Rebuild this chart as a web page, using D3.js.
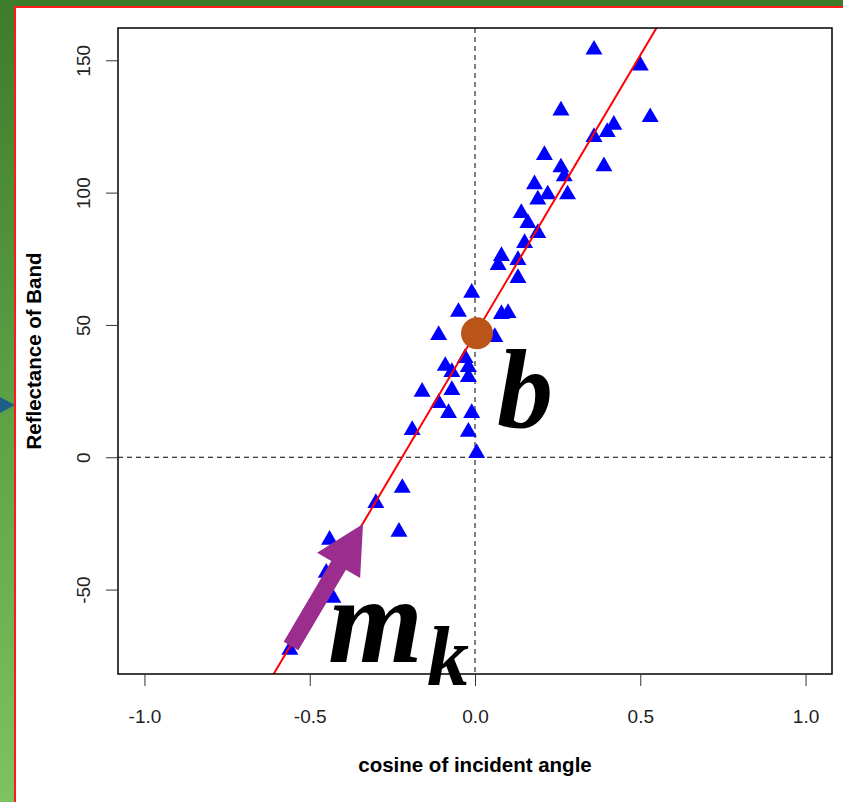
<!DOCTYPE html>
<html>
<head>
<meta charset="utf-8">
<script src="https://cdn.jsdelivr.net/npm/d3@7"></script>
<style>
  body { margin: 0; }
  svg { display: block; }
</style>
</head>
<body>
<div class="chart"></div>
<script>

// cosine of incident angle / reflectance pairs
const cosValues = [
  0.36, 0.50, 0.26, 0.53, 0.42, 0.40, 0.36, 0.21, 0.39, 0.26,
  0.27, 0.18, 0.22, 0.19, 0.28, 0.14, 0.16, 0.19, 0.15, 0.08,
  0.07, 0.13, 0.13, -0.01, -0.05, 0.08, 0.10, -0.11, 0.06, -0.03,
  -0.09, -0.07, -0.02, -0.02, -0.16, -0.07, -0.11, -0.08, -0.01, -0.02,
  -0.19, 0.005, -0.22, -0.30, -0.23, -0.44, -0.45, -0.43, -0.56
];
const reflValues = [
  154, 148, 131, 128.5, 125.6, 122.9, 121, 114.2, 109.9, 109.5,
  106.1, 103.1, 99.3, 97.4, 99.3, 92.3, 88.5, 84.7, 80.9, 76,
  72.6, 74.5, 67.7, 62.1, 54.9, 54.1, 54.5, 46.2, 45.4, 37.5,
  34.5, 32.2, 34.1, 30.3, 24.7, 25.4, 20.5, 16.7, 16.7, 9.6,
  10.3, 1.6, -11.6, -17.3, -28.2, -31.2, -43.7, -53.1, -72.8
];

const xTicks = [-1.0, -0.5, 0.0, 0.5, 1.0];
const yTicks = [-50, 0, 50, 100, 150];

// fitted line as drawn: intercept b, slope m_k
const fitIntercept = 46.5;
const fitSlope = 210.8;

const width = 843;
const height = 802;

let box = {left: 118, right: 832, top: 28, bottom: 674};

let x = d3.scaleLinear().domain([-1.08, 1.08]).range([box.left, box.right]);
let y = d3.scaleLinear().domain([-81.9, 162.2]).range([box.bottom, box.top]);

// R style labels use a plain hyphen for negatives
const hyphen = f => d => f(d).replace('\u2212', '-');

const svg = d3.select('.chart')
  .append('svg')
  .attr('width', width)
  .attr('height', height);

// slide background
let grad = svg.append('defs')
  .append('linearGradient')
  .attr('id', 'bg')
  .attr('x1', 0).attr('y1', 0).attr('x2', 0).attr('y2', 1);
grad.append('stop').attr('offset', '0%').attr('stop-color', '#3d7c2a');
grad.append('stop').attr('offset', '100%').attr('stop-color', '#7cc460');

svg.append('rect')
  .attr('width', width).attr('height', height)
  .attr('fill', 'url(#bg)');

svg.append('path')
  .attr('d', 'M0,397L15,405L0,413Z')
  .attr('fill', '#1f5e86');

svg.append('rect')
  .attr('x', 15).attr('y', 7)
  .attr('width', width).attr('height', height)
  .attr('fill', '#fff')
  .attr('stroke', '#ff1a1a')
  .attr('stroke-width', 2);

svg.append('clipPath')
  .attr('id', 'plotclip')
  .append('rect')
  .attr('x', box.left).attr('y', box.top)
  .attr('width', box.right - box.left)
  .attr('height', box.bottom - box.top);

// zero reference lines
svg.append('line')
  .attr('x1', x(0)).attr('x2', x(0))
  .attr('y1', box.top).attr('y2', box.bottom)
  .attr('stroke', '#000').attr('stroke-dasharray', '5,4');

svg.append('line')
  .attr('x1', box.left).attr('x2', box.right)
  .attr('y1', y(0)).attr('y2', y(0))
  .attr('stroke', '#000').attr('stroke-dasharray', '5,4');

// points
const points = cosValues.map((c, i) => ({c: c, r: reflValues[i]}));

svg.append('g')
  .selectAll('path')
  .data(points)
  .enter()
  .append('path')
  .attr('d', d3.symbol().type(d3.symbolTriangle).size(125))
  .attr('transform', d => 'translate(' + x(d.c) + ',' + y(d.r) + ')')
  .attr('fill', '#0000ff');

// regression line
const xLo = x.domain()[0], xHi = x.domain()[1];
svg.append('line')
  .attr('clip-path', 'url(#plotclip)')
  .attr('x1', x(xLo)).attr('y1', y(fitIntercept + fitSlope * xLo))
  .attr('x2', x(xHi)).attr('y2', y(fitIntercept + fitSlope * xHi))
  .attr('stroke', '#ff0000')
  .attr('stroke-width', 2);

// frame
svg.append('rect')
  .attr('x', box.left).attr('y', box.top)
  .attr('width', box.right - box.left)
  .attr('height', box.bottom - box.top)
  .attr('fill', 'none')
  .attr('stroke', '#000')
  .attr('stroke-width', 1.5);

// axes
const xAxis = svg.append('g')
  .attr('transform', 'translate(0,' + box.bottom + ')')
  .call(d3.axisBottom(x).tickValues(xTicks).tickFormat(hyphen(d3.format('.1f'))).tickSize(12).tickPadding(24));
xAxis.select('.domain').remove();
xAxis.selectAll('line').attr('stroke', '#333');
xAxis.selectAll('text')
  .attr('font-family', 'Liberation Sans, Arial, sans-serif')
  .attr('font-size', 19)
  .attr('fill', '#222');

const yAxis = svg.append('g')
  .attr('transform', 'translate(' + box.left + ',0)')
  .call(d3.axisLeft(y).tickValues(yTicks).tickSize(12).tickFormat(hyphen(d3.format('d'))));
yAxis.select('.domain').remove();
yAxis.selectAll('line').attr('stroke', '#333');
yAxis.selectAll('text')
  .attr('font-family', 'Liberation Sans, Arial, sans-serif')
  .attr('font-size', 19)
  .attr('fill', '#222')
  .attr('x', null).attr('dy', null)
  .attr('text-anchor', 'middle')
  .attr('transform', 'translate(-28,0) rotate(-90)');

svg.append('text')
  .attr('x', x(0)).attr('y', 772)
  .attr('text-anchor', 'middle')
  .attr('font-family', 'Liberation Sans, Arial, sans-serif')
  .attr('font-weight', 'bold')
  .attr('font-size', 20.5)
  .text('cosine of incident angle');

svg.append('text')
  .attr('transform', 'translate(41,351) rotate(-90)')
  .attr('text-anchor', 'middle')
  .attr('font-family', 'Liberation Sans, Arial, sans-serif')
  .attr('font-weight', 'bold')
  .attr('font-size', 20.5)
  .text('Reflectance of Band');

// annotations
svg.append('circle')
  .attr('cx', x(0) + 2).attr('cy', y(fitIntercept) - 1)
  .attr('r', 16)
  .attr('fill', '#bb5418');

svg.append('text')
  .attr('x', 497).attr('y', 427)
  .attr('font-family', 'Liberation Serif, serif')
  .attr('font-weight', 'bold')
  .attr('font-style', 'italic')
  .attr('font-size', 112)
  .text('b');

let mk = svg.append('text')
  .attr('x', 328).attr('y', 662)
  .attr('font-family', 'Liberation Serif, serif')
  .attr('font-weight', 'bold')
  .attr('font-style', 'italic')
  .attr('font-size', 122);
mk.append('tspan').text('m');
mk.append('tspan').attr('font-size', 84).attr('dx', 4).attr('dy', 23).text('k');

// arrow pointing along the slope
const arrowTail = [291, 646], arrowTip = [363, 524];
const ang = Math.atan2(arrowTip[1] - arrowTail[1], arrowTip[0] - arrowTail[0]);
const len = Math.hypot(arrowTip[0] - arrowTail[0], arrowTip[1] - arrowTail[1]);
const shaftW = 8.5, headW = 25, headL = 48;
const arrowPts = [
  [0, -shaftW], [len - headL, -shaftW], [len - headL, -headW],
  [len, 0], [len - headL, headW], [len - headL, shaftW], [0, shaftW]
];
svg.append('path')
  .attr('d', 'M' + arrowPts.join('L') + 'Z')
  .attr('transform', 'translate(' + arrowTail + ') rotate(' + (ang * 180 / Math.PI) + ')')
  .attr('fill', '#9b2d8e');

</script>
</body>
</html>
